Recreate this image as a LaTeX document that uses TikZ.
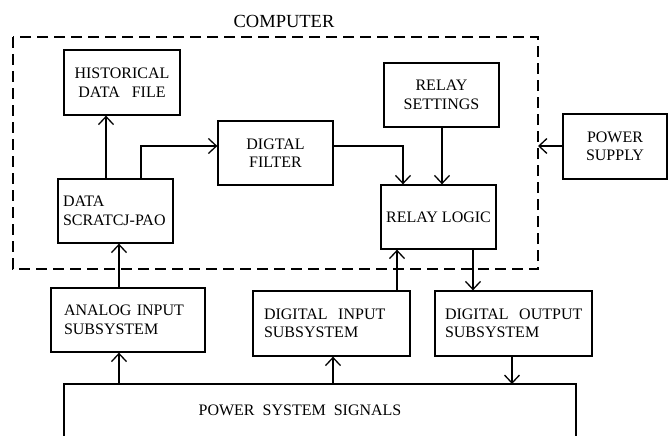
\documentclass[tikz,border=0pt]{standalone}
\usepackage{fontspec}
\setmainfont{Liberation Serif}
\usetikzlibrary{arrows.meta}
\begin{document}
\begin{tikzpicture}[x=1pt,y=-1pt,
  blk/.style={draw, line width=1.3pt, inner sep=0pt, font=\fontsize{16}{18.5}\selectfont},
  cblk/.style={blk, align=center},
  lblk/.style={blk, align=left},
  arr/.style={line width=1.3pt, -{Straight Barb[length=8pt,width=15pt,line width=1.3pt]}},
  ln/.style={line width=1.3pt},
  dsh/.style={line width=1.3pt, dash pattern=on 11pt off 6pt}]
\useasboundingbox (0,0) rectangle (669,436);
% dashed computer boundary
\draw[dsh] (13,37) rectangle (538,269);
\node[font=\fontsize{18.5}{20}\selectfont] (comp) at (284,21) {COMPUTER};
% boxes
\node[cblk, minimum width=116pt, minimum height=65pt] (hist) at (122,82.5) {HISTORICAL\\DATA\ \ \ FILE};
\node[cblk, minimum width=115pt, minimum height=64pt] (filt) at (275.5,153) {DIGTAL\\FILTER};
\node[lblk, text width=105pt, inner xsep=5pt, minimum height=64pt] (data) at (115.5,211) {DATA\\\mbox{SCRATCJ-PAO}};
\node[cblk, minimum width=115pt, minimum height=64pt] (rset) at (441.5,95) {RELAY\\SETTINGS};
\node[cblk, minimum width=115pt, minimum height=64pt] (rlog) at (438.5,217) {RELAY LOGIC};
\node[cblk, minimum width=104pt, minimum height=65pt] (psup) at (615,146.5) {POWER\\SUPPLY};
\node[lblk, text width=128pt, inner xsep=13pt, minimum height=64pt] (anal) at (128,320) {\mbox{ANALOG INPUT}\\SUBSYSTEM};
\node[lblk, text width=135pt, inner xsep=11pt, minimum height=65pt] (dinp) at (331.5,323.5) {\mbox{DIGITAL\ \ INPUT}\\SUBSYSTEM};
\node[lblk, text width=137pt, inner xsep=10pt, minimum height=65pt] (dout) at (513.5,323.5) {\mbox{DIGITAL\ \ OUTPUT}\\SUBSYSTEM};
% power system signals (open at bottom)
\draw[ln] (64,436) -- (64,384) -- (576,384) -- (576,436);
\node[font=\fontsize{16}{18.5}\selectfont] (sig) at (300,410) {POWER\ \ SYSTEM\ \ SIGNALS};
\coordinate (sA) at (119,384);
\coordinate (sB) at (333,384);
\coordinate (sC) at (512,384);
\coordinate (dR) at (538,146);
% connectors
\draw[arr] (data.north -| 106,0) -- (hist.south -| 106,0);
\draw[arr] (data.north -| 141,0) |- (filt.west |- 0,146);
\draw[arr] (filt.east |- 0,146) -| (rlog.north -| 403,0);
\draw[arr] (rset.south -| 442,0) -- (rlog.north -| 442,0);
\draw[arr] (psup.west |- dR) -- (dR);
\draw[arr] (anal.north -| 119,0) -- (data.south -| 119,0);
\draw[arr] (sA) -- (anal.south -| sA);
\draw[arr] (sB) -- (dinp.south -| sB);
\draw[arr] (dinp.north -| 397,0) -- (rlog.south -| 397,0);
\draw[arr] (rlog.south -| 473,0) -- (dout.north -| 473,0);
\draw[arr] (dout.south -| sC) -- (sC);
\end{tikzpicture}
\end{document}
